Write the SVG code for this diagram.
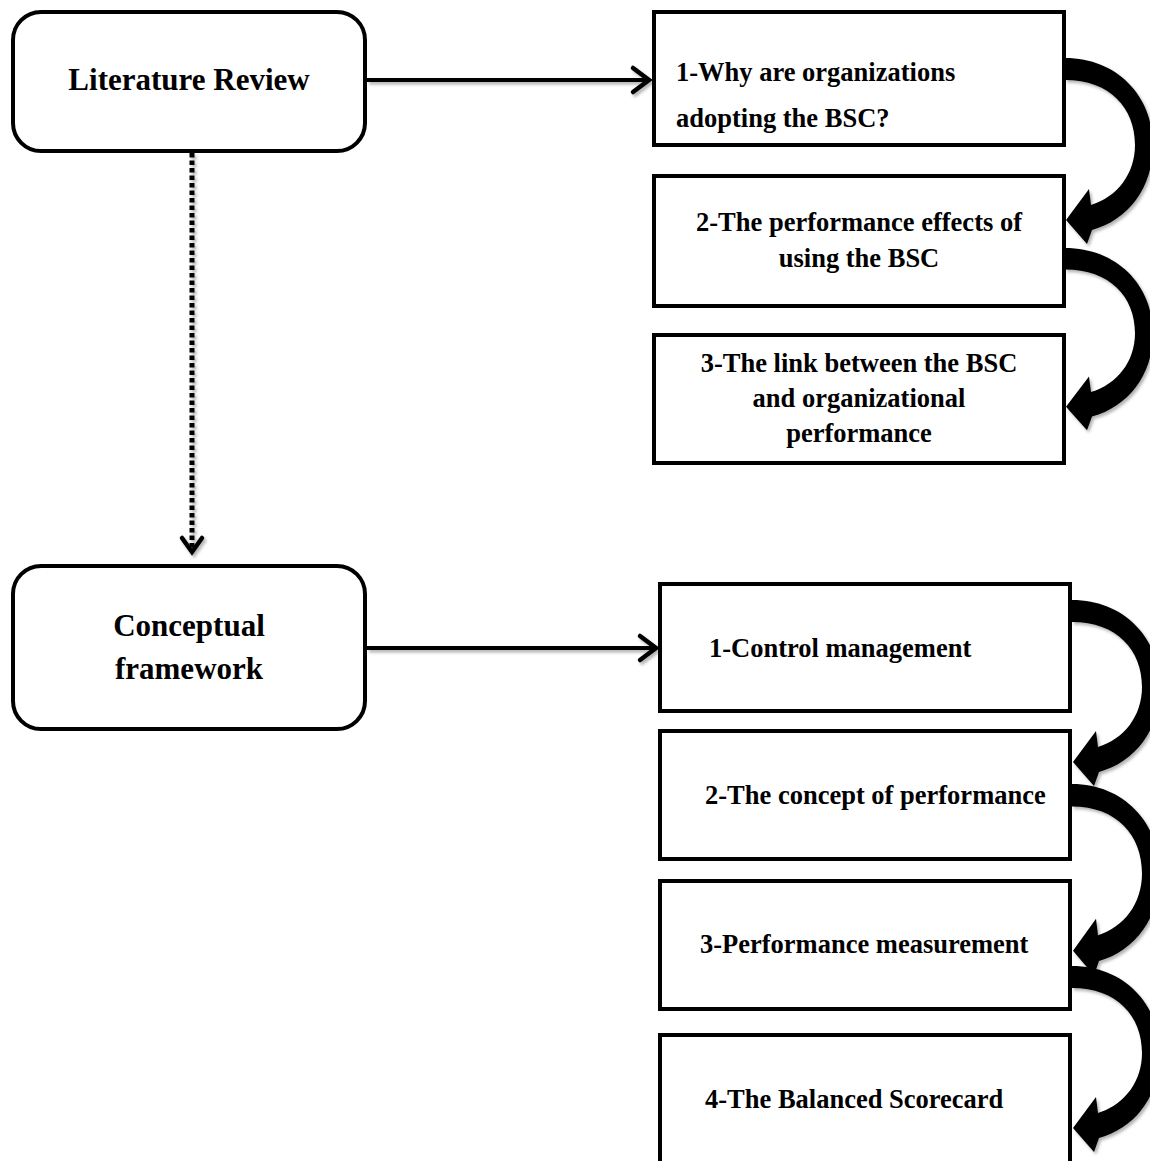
<svg xmlns="http://www.w3.org/2000/svg" width="1150" height="1161" viewBox="0 0 1150 1161">
  <style>
    .box { fill: #fff; stroke: #000; stroke-width: 4; }
    .label { font-family: "Liberation Serif", "Times New Roman", serif; font-weight: bold; fill: #000; }
    .big { font-size: 31px; }
    .item { font-size: 26.5px; }
    .line { fill: none; stroke: #000; stroke-width: 4; }
    .chev { fill: none; stroke: #000; stroke-width: 4.5; stroke-linecap: round; stroke-linejoin: miter; }
    .curl { fill: #000; }
  </style>
  <defs>
    <filter id="shadow" x="-20%" y="-20%" width="150%" height="150%">
      <feDropShadow dx="2" dy="2.5" stdDeviation="1.5" flood-color="#000" flood-opacity="0.3"/>
    </filter>
    <!-- thick curved arrow that loops from one box's right edge into the next -->
    <path id="curl" class="curl" d="M0,-2 C52,-2 88,36 88,85 C88,128 63,160 27,170 L22,184 L1,160 L24,129 L26,145 C52,137 70,114 70,85 C70,48 45,20 0,20 Z"/>
  </defs>

  <!-- main stages -->
  <g id="literature-review">
    <rect class="box" x="13" y="12" width="352" height="139" rx="28"/>
    <text class="label big" x="189" y="90" text-anchor="middle">Literature Review</text>
  </g>
  <g id="conceptual-framework">
    <rect class="box" x="13" y="566" width="352" height="163" rx="28"/>
    <text class="label big" x="189" y="636" text-anchor="middle">Conceptual</text>
    <text class="label big" x="189" y="679" text-anchor="middle">framework</text>
  </g>

  <!-- literature review topics -->
  <g id="lr-1">
    <rect class="box" x="654" y="12" width="410" height="133"/>
    <text class="label item" x="676" y="81">1-Why are organizations</text>
    <text class="label item" x="676" y="127">adopting the BSC?</text>
  </g>
  <g id="lr-2">
    <rect class="box" x="654" y="176" width="410" height="130"/>
    <text class="label item" x="859" y="231" text-anchor="middle">2-The performance effects of</text>
    <text class="label item" x="859" y="267" text-anchor="middle">using the BSC</text>
  </g>
  <g id="lr-3">
    <rect class="box" x="654" y="335" width="410" height="128"/>
    <text class="label item" x="859" y="372" text-anchor="middle">3-The link between the BSC</text>
    <text class="label item" x="859" y="407" text-anchor="middle">and  organizational</text>
    <text class="label item" x="859" y="442" text-anchor="middle">performance</text>
  </g>

  <!-- conceptual framework topics -->
  <g id="cf-1">
    <rect class="box" x="660" y="584" width="410" height="127"/>
    <text class="label item" x="709" y="657">1-Control management</text>
  </g>
  <g id="cf-2">
    <rect class="box" x="660" y="731" width="410" height="128"/>
    <text class="label item" x="705" y="804">2-The concept of performance</text>
  </g>
  <g id="cf-3">
    <rect class="box" x="660" y="881" width="410" height="128"/>
    <text class="label item" x="700" y="953">3-Performance measurement</text>
  </g>
  <g id="cf-4">
    <rect class="box" x="660" y="1035" width="410" height="140"/>
    <text class="label item" x="705" y="1108">4-The Balanced Scorecard</text>
  </g>

  <!-- connectors -->
  <g id="connectors" filter="url(#shadow)">
    <line class="line" x1="367" y1="80" x2="648" y2="80"/>
    <polyline class="chev" points="633,68 649,80 633,92"/>
    <line class="line" x1="367" y1="648" x2="655" y2="648"/>
    <polyline class="chev" points="640,636 656,648 640,660"/>
    <line x1="192" y1="153" x2="192" y2="550" stroke="#000" stroke-width="5" stroke-dasharray="4.5 3"/>
    <polyline class="chev" points="182,538 192,552 202,538"/>
    <use href="#curl" transform="translate(1065,60)"/>
    <use href="#curl" transform="translate(1065,250) scale(1,0.98)"/>
    <use href="#curl" transform="translate(1072,602)"/>
    <use href="#curl" transform="translate(1072,786) scale(1,1.03)"/>
    <use href="#curl" transform="translate(1072,968)"/>
  </g>
</svg>
